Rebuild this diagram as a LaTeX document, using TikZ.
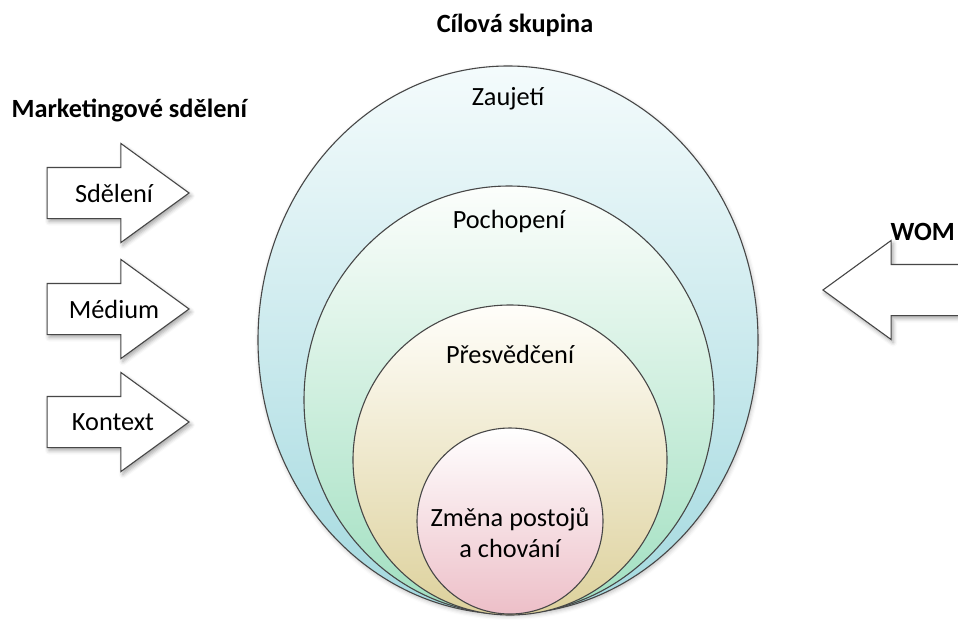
\documentclass[tikz,border=0pt]{standalone}
\usepackage{fontspec}
\setmainfont{Carlito}
\usepackage{tikz}
\usetikzlibrary{positioning, shapes.geometric, shapes.arrows, shadows.blur}
\definecolor{rimgray}{HTML}{474747}
\definecolor{zaujtop}{HTML}{F4FBFC}
\definecolor{zaujbot}{HTML}{A3D9DF}
\definecolor{pochtop}{HTML}{FCFEFC}
\definecolor{pochbot}{HTML}{A0DFC0}
\definecolor{presvtop}{HTML}{FFFEFA}
\definecolor{presvbot}{HTML}{DDD19C}
\definecolor{zmenabot}{HTML}{EDBFC8}

\tikzset{
  softshadow/.style={blur shadow={shadow xshift=2pt, shadow yshift=-3pt,
      shadow blur radius=4pt, shadow opacity=35}},
  stage/.style={ellipse, draw=rimgray, line width=1.1pt, inner sep=0pt},
  stagetext/.style={font=\fontsize{26.3}{31}\selectfont},
  headline/.style={font=\fontsize{26.3}{31}\selectfont\bfseries},
  msgarrow/.style={single arrow, draw=rimgray, fill=white, line width=1.1pt,
      single arrow head extend=24pt, single arrow tip angle=72,
      minimum height=142pt, minimum width=98pt,
      text height=18pt, text depth=6pt, inner ysep=13pt, inner xsep=0pt,
      softshadow}
}

\begin{document}
\begin{tikzpicture}[x=1pt, y=-1pt]
  \useasboundingbox (0,0) rectangle (958,619);
  \clip (0,0) rectangle (958,619);

  % nested target group
  \node[stage, top color=zaujtop, bottom color=zaujbot,
        blur shadow={shadow xshift=1pt, shadow yshift=-2pt,
        shadow blur radius=4pt, shadow opacity=25},
        minimum width=500pt, minimum height=548pt] (zaujeti) at (508,340) {};
  \node[stage, top color=pochtop, bottom color=pochbot,
        minimum width=410pt, minimum height=428pt] (pochopeni) at (509,400) {};
  \node[stage, top color=presvtop, bottom color=presvbot,
        minimum width=314pt, minimum height=310pt] (presvedceni) at (510,460) {};
  \node[stage, circle, top color=white, bottom color=zmenabot,
        minimum size=186pt] (zmena) at (510,521) {};

  \node[stagetext] (zaujetiL) at ([yshift=-33pt]zaujeti.north) {Zaujetí};
  \node[stagetext] (pochopeniL) at ([yshift=-36pt]pochopeni.north) {Pochopení};
  \node[stagetext] (presvedceniL) at ([yshift=-50pt]presvedceni.north) {Přesvědčení};
  \node[stagetext, align=center] (zmenaL) at (510,533) {Změna postojů\\a chování};

  \node[headline] (skupina) at (515,25) {Cílová skupina};

  % message arrows
  \node[headline, anchor=west] (sdeleni) at (8,110) {Marketingové sdělení};
  \node[msgarrow, anchor=tip] (sdeleniA) at (190,193) {};
  \node[msgarrow, anchor=tip] (mediumA) at (190,309) {};
  \node[msgarrow, anchor=tip] (kontextA) at (190,422) {};
  \node[stagetext] at ([xshift=-76pt]sdeleniA.tip) {Sdělení};
  \node[stagetext] at ([xshift=-76pt]mediumA.tip) {Médium};
  \node[stagetext] at ([xshift=-77pt]kontextA.tip) {Kontext};

  % word of mouth
  \node[msgarrow, anchor=tip, shape border rotate=180,
        minimum height=190pt] (womA) at (822,290) {};
  \node[headline, anchor=west] (wom) at (887,232) {WOM};
\end{tikzpicture}
\end{document}
